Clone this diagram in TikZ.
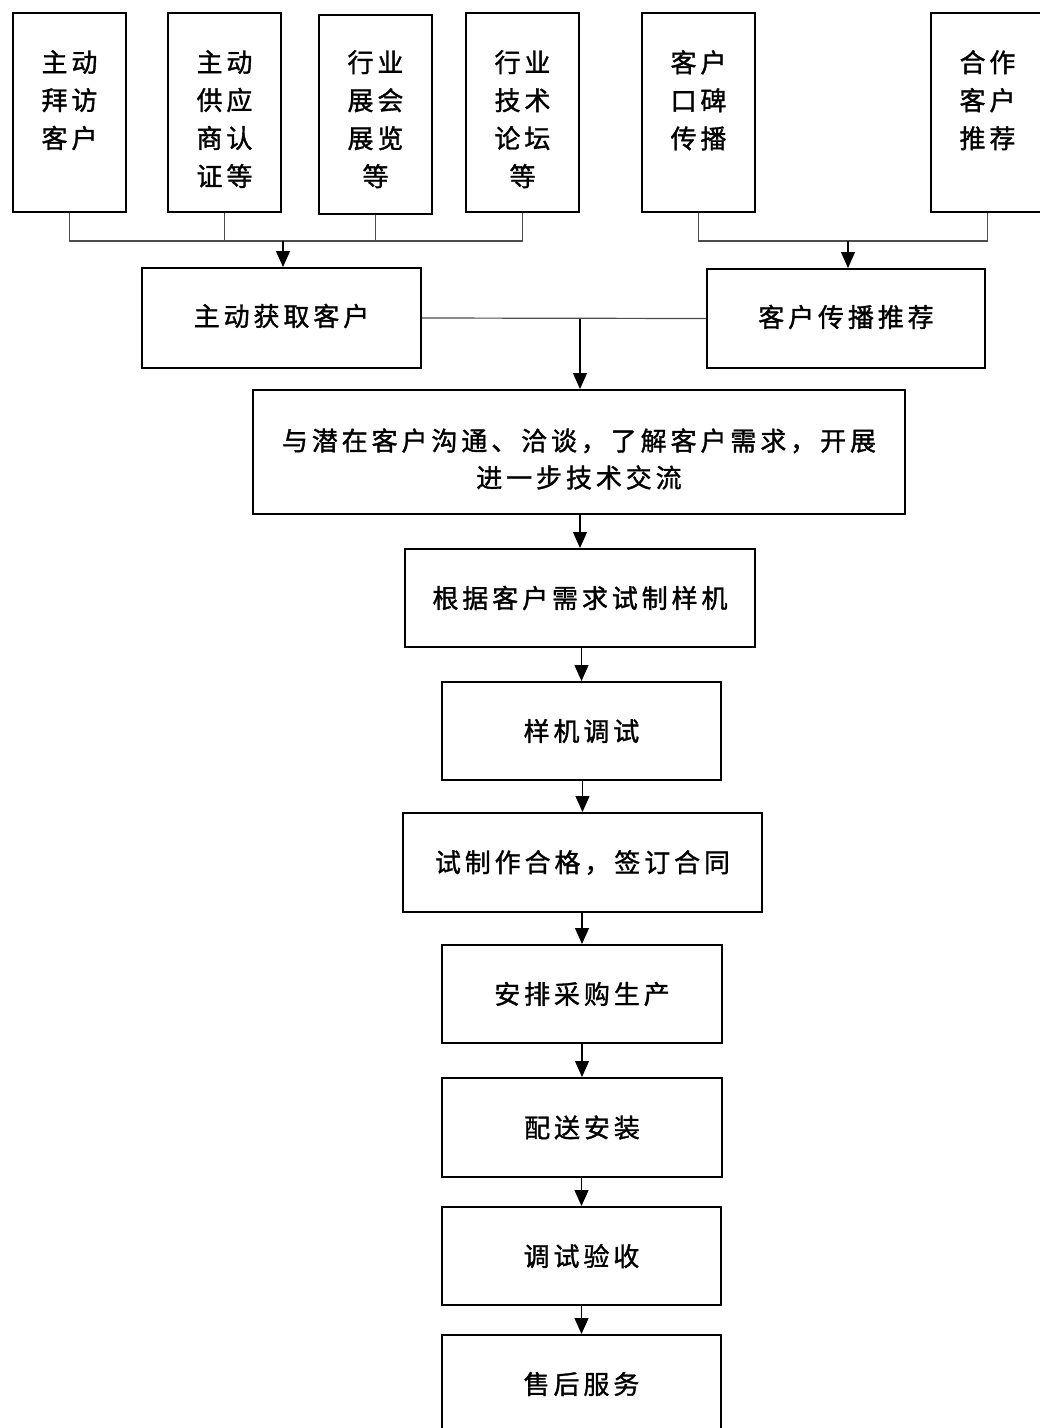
\documentclass[tikz,border=0pt]{standalone}
\usepackage{fontspec}
\newfontfamily\cjk[LetterSpace=15,FakeBold=1.3]{Noto Sans CJK SC}
\usetikzlibrary{arrows.meta}
\begin{document}
\begin{tikzpicture}[x=1pt,y=-1pt,
  font=\cjk\fontsize{26}{38}\selectfont,
  box/.style={draw, line width=2pt, inner sep=0pt, align=center},
  topbox/.style={box, minimum width=113pt, minimum height=199pt},
  toptext/.style={anchor=north, inner sep=0pt, align=center},
  gline/.style={draw=black!70, line width=1.2pt},
  arr/.style={draw=black, line width=1.2pt, -{Triangle[width=14pt,length=16pt]}}]
\useasboundingbox (0,0) rectangle (1040,1428);
% top source boxes
\node[topbox] (t1) at (69.5,112.5) {};
\node[topbox] (t2) at (224.5,112.5) {};
\node[topbox] (t3) at (375.5,114) {};
\node[topbox] (t4) at (522.5,112.5) {};
\node[topbox] (t5) at (698.5,112.5) {};
\node[topbox] (t6) at (987.5,112.5) {};
\node[toptext] (x1) at (69.5,50) {主动\\拜访\\客户};
\node[toptext] (x2) at (224.5,50) {主动\\供应\\商认\\证等};
\node[toptext] (x3) at (375.5,50) {行业\\展会\\展览\\等};
\node[toptext] (x4) at (522.5,50) {行业\\技术\\论坛\\等};
\node[toptext] (x5) at (698.5,50) {客户\\口碑\\传播};
\node[toptext] (x6) at (987.5,50) {合作\\客户\\推荐};
% second row
\node[box, minimum width=279pt, minimum height=100pt] (a) at (281.5,318) {};
\node[inner sep=0pt] (at) at (281.5,316) {主动获取客户};
\node[box, minimum width=278pt, minimum height=99pt] (b) at (846,318.5) {};
\node[inner sep=0pt] (bt) at (846,317) {客户传播推荐};
% main column
\node[box, minimum width=652pt, minimum height=124pt] (c) at (579,452) {};
\node[inner sep=0pt, align=center] (ct) at (579,459) {与潜在客户沟通、洽谈，了解客户需求，开展\\[-1pt]进一步技术交流};
\node[box, minimum width=350pt, minimum height=98pt] (d) at (580,598) {根据客户需求试制样机};
\node[box, minimum width=279pt, minimum height=98pt] (e) at (581.5,731) {样机调试};
\node[box, minimum width=359pt, minimum height=99pt] (f) at (582.5,862.5) {试制作合格，签订合同};
\node[box, minimum width=280pt, minimum height=98pt] (g) at (582,994) {安排采购生产};
\node[box, minimum width=280pt, minimum height=99pt] (h) at (582,1127.5) {配送安装};
\node[box, minimum width=279pt, minimum height=98pt] (i) at (581.5,1256) {调试验收};
\node[box, minimum width=279pt, minimum height=98pt] (j) at (581.5,1384) {售后服务};
% top connectors
\coordinate (hl) at (0,241);
\draw[gline] (t1.south) -- (t1.south |- hl) -- (t4.south |- hl) -- (t4.south);
\draw[gline] (t2.south) -- (t2.south |- hl);
\draw[gline] (t3.south) -- (t3.south |- hl);
\draw[arr] (283,241) coordinate (ja) -- (ja |- a.north);
\draw[gline] (t5.south) -- (t5.south |- hl) -- (t6.south |- hl) -- (t6.south);
\draw[arr] (848,241) coordinate (jb) -- (jb |- b.north);
% merge
\draw[gline] (a.east) -- (b.west);
\draw[arr] (580,318.5) coordinate (jc) -- (jc |- c.north);
% chain
\draw[arr] (c.south -| d.north) -- (d.north);
\draw[arr] (d.south -| e.north) -- (e.north);
\draw[arr] (e.south -| f.north) -- (f.north);
\draw[arr] (f.south -| g.north) -- (g.north);
\draw[arr] (g.south -| h.north) -- (h.north);
\draw[arr] (h.south -| i.north) -- (i.north);
\draw[arr] (i.south -| j.north) -- (j.north);
\end{tikzpicture}
\end{document}
